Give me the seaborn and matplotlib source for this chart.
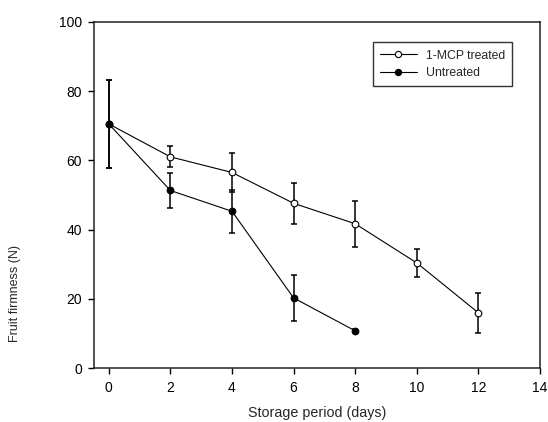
import matplotlib
matplotlib.use("Agg")
import matplotlib.pyplot as plt
import seaborn as sns
import pandas as pd
from matplotlib.lines import Line2D

# Data
days_mcp = [0, 2, 4, 6, 8, 10, 12]
mcp_mean = [70.5, 61.0, 56.5, 47.6, 41.7, 30.4, 16.0]
mcp_err = [12.7, 3.0, 5.5, 5.9, 6.7, 4.1, 5.8]

days_untr = [0, 2, 4, 6, 8]
untr_mean = [70.5, 51.3, 45.3, 20.3, 10.8]
untr_err = [12.7, 5.1, 6.2, 6.6, 0.4]

x_ticks = [0, 2, 4, 6, 8, 10, 12, 14]
y_ticks = [0, 20, 40, 60, 80, 100]
labels = ["1-MCP treated", "Untreated"]

sns.set_style("ticks")
plt.rcParams['font.family'] = ['Liberation Sans', 'DejaVu Sans']

fig = plt.figure(figsize=(5.48, 4.22), dpi=100)
ax = fig.add_axes([0.1721, 0.1273, 0.8133, 0.8213])

df_mcp = pd.DataFrame({"day": days_mcp, "firm": mcp_mean})
df_untr = pd.DataFrame({"day": days_untr, "firm": untr_mean})

ax.errorbar(days_mcp, mcp_mean, yerr=mcp_err, fmt='none', ecolor='black',
            elinewidth=1.1, capsize=2.3, capthick=1.1, zorder=2)
sns.lineplot(data=df_mcp, x="day", y="firm", ax=ax, color='black', lw=0.8,
             marker='o', markersize=4.8, markerfacecolor='white',
             markeredgecolor='black', markeredgewidth=0.8, zorder=3)
ax.errorbar(days_untr, untr_mean, yerr=untr_err, fmt='none', ecolor='black',
            elinewidth=1.1, capsize=2.3, capthick=1.1, zorder=4)
sns.lineplot(data=df_untr, x="day", y="firm", ax=ax, color='black', lw=0.8,
             marker='o', markersize=4.8, markerfacecolor='black',
             markeredgecolor='black', markeredgewidth=0.8, zorder=5)

ax.set_xlim(-0.47, 14)
ax.set_ylim(0, 100)
ax.set_xticks(x_ticks)
ax.set_yticks(y_ticks)
ax.tick_params(direction='out', length=4, width=1, labelsize=10, colors='black', pad=5)
for s in ax.spines.values():
    s.set_linewidth(1.1)
    s.set_color('#222222')

ax.set_xlabel("Storage period (days)", fontsize=10.3, labelpad=8)
ax.set_ylabel("Fruit firmness (N)", fontsize=9)
ax.yaxis.set_label_coords(-0.165, 0.217)

handles = [
    Line2D([], [], color='black', lw=0.8, marker='o', markersize=4.5,
           markerfacecolor='white', markeredgecolor='black', markeredgewidth=0.8),
    Line2D([], [], color='black', lw=0.8, marker='o', markersize=4.5,
           markerfacecolor='black', markeredgecolor='black', markeredgewidth=0.8),
]
leg = ax.legend(handles, labels, loc='upper right', bbox_to_anchor=(0.938, 0.9406),
                borderaxespad=0, fontsize=8.8, frameon=True, fancybox=False,
                edgecolor='black', handlelength=3.0, handletextpad=0.75,
                labelspacing=0.45, borderpad=0.6)
leg.get_frame().set_linewidth(1.0)

fig.savefig("out.png", dpi=100)
